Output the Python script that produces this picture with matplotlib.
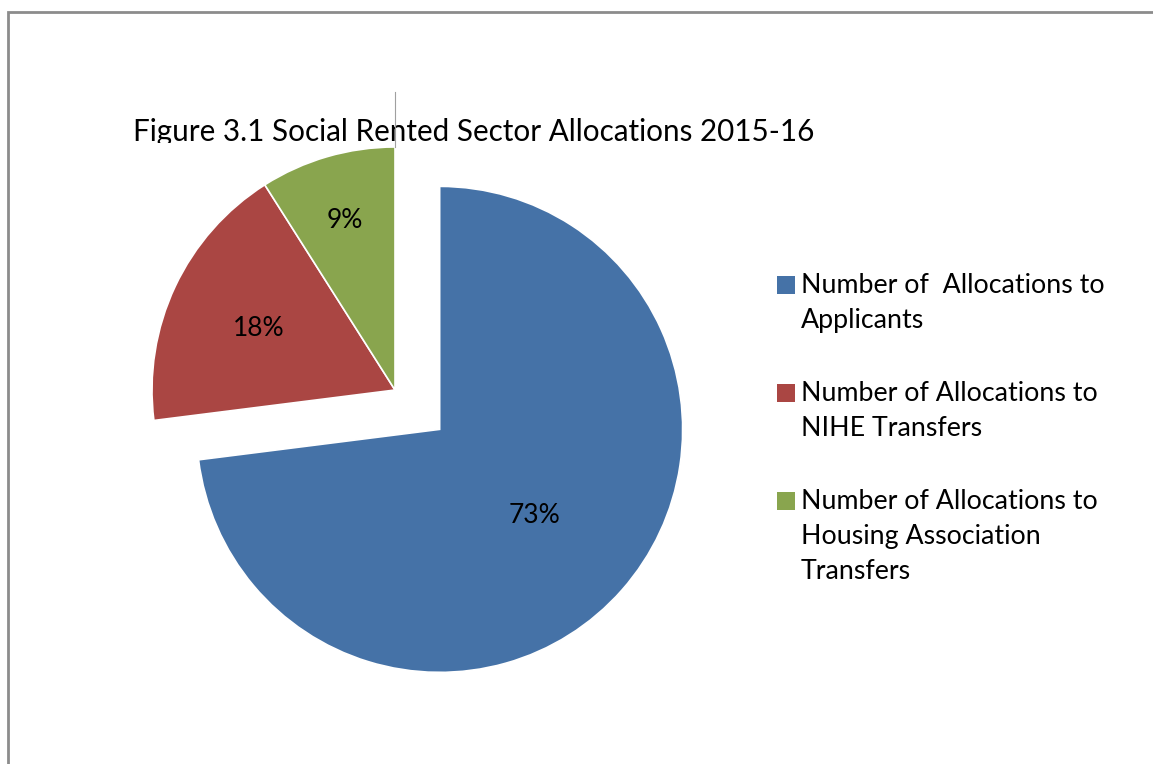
import numpy as np
import matplotlib
matplotlib.use("Agg")
import matplotlib.pyplot as plt
from matplotlib.patches import Rectangle

title = "Figure 3.1 Social Rented Sector Allocations 2015-16"
categories = [
    "Number of  Allocations to\nApplicants",
    "Number of Allocations to\nNIHE Transfers",
    "Number of Allocations to\nHousing Association\nTransfers",
]
shares = [73, 18, 9]
colors = ["#4572A7", "#AA4643", "#89A54E"]
explode_frac = [0.245, 0, 0]
label_dist = [0.52, 0.62, 0.74]

plt.rcParams["font.family"] = ["Lato", "DejaVu Sans"]

W, H = 1153, 764
fig = plt.figure(figsize=(W / 100, H / 100), dpi=100)
ax = fig.add_axes([0, 0, 1, 1])

# outer chart border
ax.add_patch(Rectangle((8, -20), W + 20, H - 12 + 20, fill=False,
                       edgecolor="#8c8c8c", linewidth=2, zorder=0))

cx, cy, r = 395, H - 390, 243

# title, clipped at the top of the plot area like the original
t = ax.text(133, H - 141, title, fontsize=21.3, ha="left", va="baseline", zorder=1)
t.set_clip_on(True)
t.set_clip_path(Rectangle((0, H - 143), W, 120, transform=ax.transData))

wedges, _ = ax.pie(shares, colors=colors, explode=[e * r for e in explode_frac],
                   startangle=90, counterclock=False, center=(cx, cy), radius=r,
                   wedgeprops=dict(edgecolor="white", linewidth=1.2),
                   frame=True)
ax.set_xlim(0, W)
ax.set_ylim(0, H)
ax.set_aspect("equal")
ax.axis("off")

for w, v, d in zip(wedges, shares, label_dist):
    mid = np.deg2rad((w.theta1 + w.theta2) / 2)
    wx, wy = w.center
    ax.text(wx + d * r * np.cos(mid), wy + d * r * np.sin(mid) - 3, f"{v}%",
            fontsize=19, ha="center", va="center", color="black")

# thin edge line rising above the pie
ax.plot([cx, cx], [cy + r, H - 92], color="#a0a0a0", linewidth=0.8)

# legend, handle aligned with the first text line as in the original
lx, ly, step, sq = 777, H - 285, 108, 18
for i, (lab, c) in enumerate(zip(categories, colors)):
    y = ly - i * step
    ax.add_patch(Rectangle((lx, y - sq / 2), sq, sq, facecolor=c, edgecolor="none"))
    ax.text(lx + sq + 6, y + 12, lab, fontsize=19.3, ha="left", va="top",
            linespacing=1.5)

fig.savefig("out.png", dpi=100)
